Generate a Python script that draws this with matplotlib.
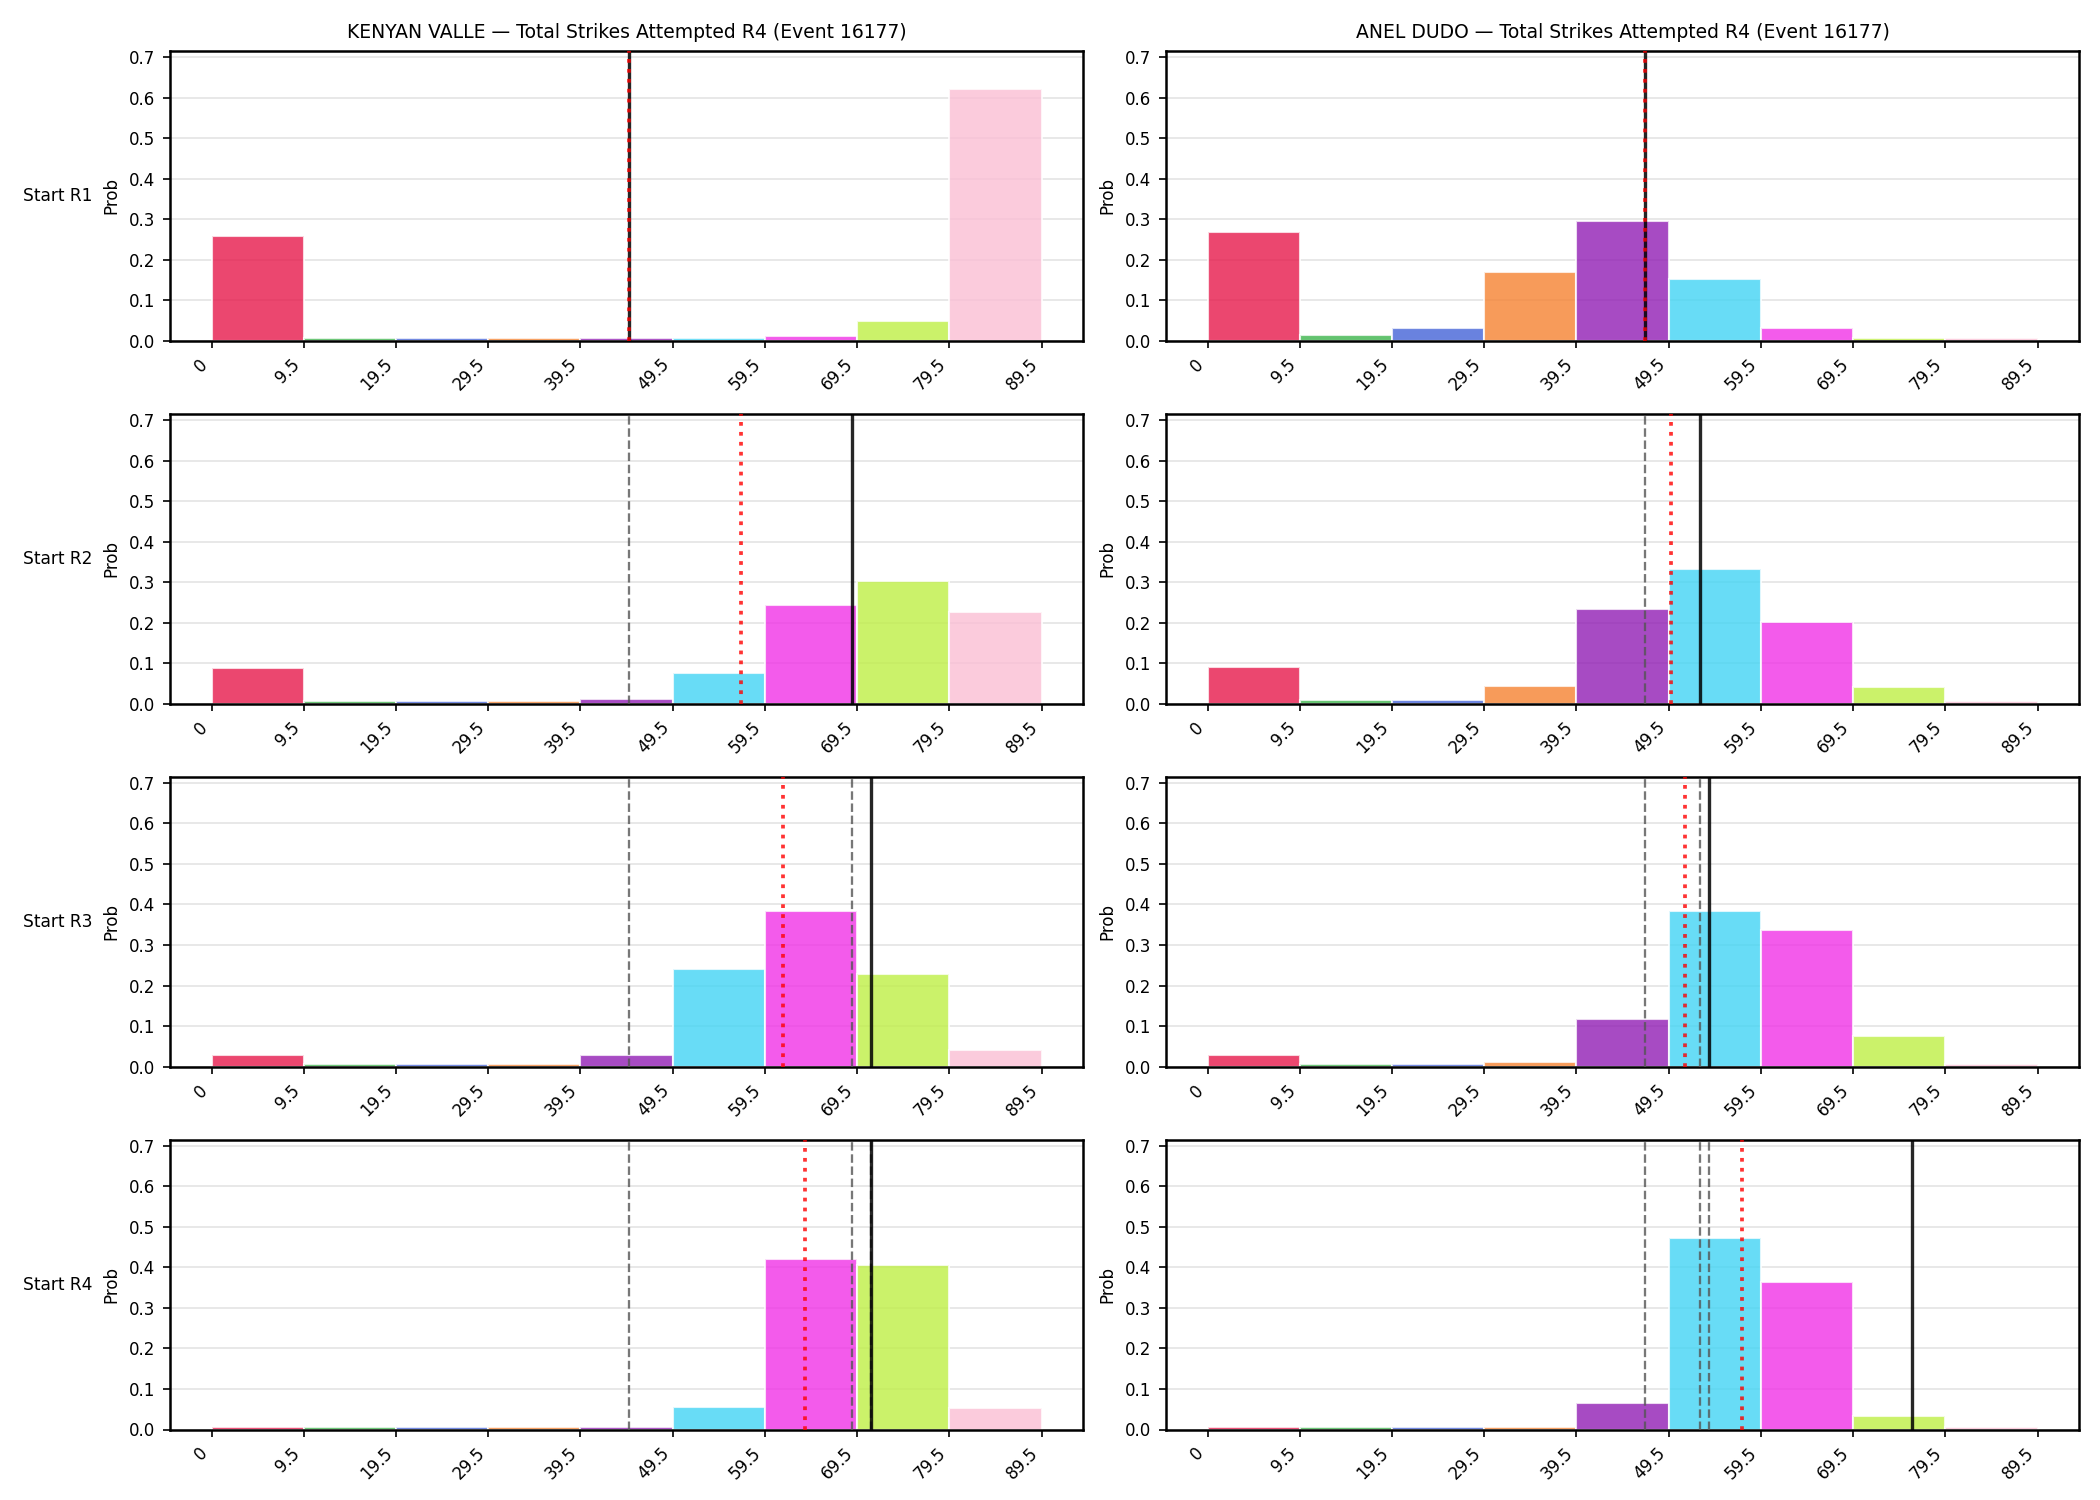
import numpy as np
import matplotlib
matplotlib.use("Agg")
import matplotlib.pyplot as plt

edges = [-0.5, 9.5, 19.5, 29.5, 39.5, 49.5, 59.5, 69.5, 79.5, 89.5]
edge_labels = ["0", "9.5", "19.5", "29.5", "39.5", "49.5", "59.5", "69.5", "79.5", "89.5"]
row_labels = ["Start R1", "Start R2", "Start R3", "Start R4"]
fighters = ["KENYAN VALLE", "ANEL DUDO"]
title_suffix = " \u2014 Total Strikes Attempted R4 (Event 16177)"

colors = ["#e6194B", "#3cb44b", "#4363d8", "#f58231", "#911eb4",
          "#42d4f4", "#f032e6", "#bfef45", "#fabed4"]

# probabilities per bin, rows = Start R1..R4
valle_probs = [
    [0.258, 0.006, 0.006, 0.006, 0.006, 0.006, 0.0115, 0.049, 0.622],
    [0.088, 0.006, 0.006, 0.006, 0.0107, 0.075, 0.243, 0.303, 0.227],
    [0.029, 0.006, 0.006, 0.006, 0.029, 0.240, 0.385, 0.228, 0.041],
    [0.006, 0.006, 0.006, 0.006, 0.006, 0.055, 0.421, 0.406, 0.053],
]
dudo_probs = [
    [0.268, 0.015, 0.032, 0.170, 0.295, 0.153, 0.032, 0.0066, 0.0066],
    [0.091, 0.008, 0.008, 0.044, 0.234, 0.333, 0.202, 0.041, 0.006],
    [0.029, 0.0066, 0.0066, 0.0115, 0.117, 0.385, 0.336, 0.075, 0.0066],
    [0.006, 0.006, 0.006, 0.006, 0.065, 0.473, 0.364, 0.033, 0.006],
]

# marker values per row: solid black (current), red dotted (expected)
valle_current = [44.8, 68.9, 71.0, 71.0]
valle_expected = [44.8, 56.9, 61.5, 63.8]
dudo_current = [46.9, 52.9, 53.9, 75.9]
dudo_expected = [46.9, 49.8, 51.3, 57.45]

probs_all = [valle_probs, dudo_probs]
current_all = [valle_current, dudo_current]
expected_all = [valle_expected, dudo_expected]

ymax = 0.715

fig, axes = plt.subplots(4, 2, figsize=(14, 10), dpi=150)
fig.subplots_adjust(left=0.081, right=0.99, top=0.966, bottom=0.047,
                    wspace=0.091, hspace=0.252)

for c in range(2):
    for r in range(4):
        ax = axes[r, c]
        probs = probs_all[c][r]
        lefts = edges[:-1]
        widths = np.diff(edges)
        ax.bar(lefts, probs, width=widths, align="edge", color=colors,
               alpha=0.8, edgecolor="white", linewidth=1.0, zorder=2)
        for prev in range(r):
            ax.axvline(current_all[c][prev], color="#555555", linestyle="--",
                       linewidth=1.1, alpha=0.8, zorder=3)
        ax.axvline(current_all[c][r], color="black", linestyle="-",
                   linewidth=1.6, alpha=0.85, zorder=4)
        ax.axvline(expected_all[c][r], color="red", linestyle=":",
                   linewidth=1.8, alpha=0.8, zorder=5)
        ax.set_ylim(0, ymax)
        ax.set_yticks(np.arange(0, 0.71, 0.1))
        ax.set_xticks(edges)
        ax.set_xticklabels(edge_labels, rotation=45, ha="right", fontsize=8)
        ax.tick_params(axis="y", labelsize=8)
        ax.grid(axis="y", color="#dddddd", linewidth=0.8, alpha=0.8, zorder=0)
        ax.set_axisbelow(True)
        ax.set_ylabel("Prob", fontsize=8)
        for sp in ax.spines.values():
            sp.set_linewidth(1.2)
        if r == 0:
            ax.set_title(fighters[c] + title_suffix, fontsize=9)
        if c == 0:
            pos = ax.get_position()
            fig.text(0.011, (pos.y0 + pos.y1) / 2, row_labels[r],
                     ha="left", va="center", fontsize=8.2)

fig.savefig("out.png", dpi=150)
